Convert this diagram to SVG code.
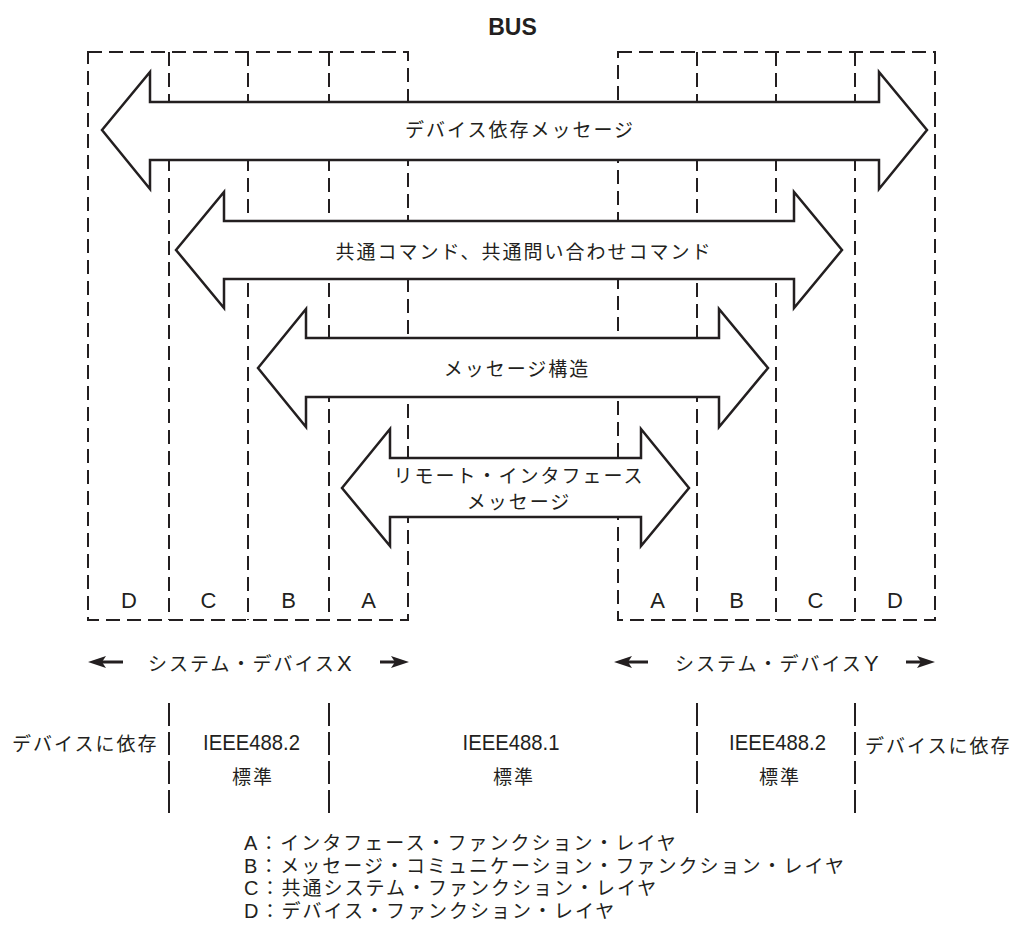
<svg xmlns="http://www.w3.org/2000/svg" width="1015" height="925" viewBox="0 0 1015 925">
<style>
.dash{fill:none;stroke:#231f20;stroke-width:2;stroke-dasharray:14 7}
.sep{fill:none;stroke:#231f20;stroke-width:2;stroke-dasharray:23 6}
.arw{fill:#fff;stroke:#231f20;stroke-width:2.5;stroke-linejoin:miter}
.jp{font-family:"Liberation Sans","Noto Sans CJK JP",sans-serif;font-size:19px;letter-spacing:2px;fill:#231f20}
.lat{font-family:"Liberation Sans",Arial,sans-serif;font-size:22px;fill:#231f20}
.big{font-size:22px}
.lg{font-size:20px}
.mid{text-anchor:middle}
.sa{stroke:#231f20;stroke-width:3}
.sh{fill:#231f20}
</style>
<rect width="1015" height="925" fill="#fff"/>
<text x="512.5" y="35" class="lat mid" style="font-weight:bold;font-size:23px">BUS</text>
<g id="deviceX">
<rect x="88" y="52" width="320" height="568" class="dash"/>
<line x1="169" y1="52" x2="169" y2="620" class="dash"/>
<line x1="248" y1="52" x2="248" y2="620" class="dash"/>
<line x1="329" y1="52" x2="329" y2="620" class="dash"/>
<text x="129" y="608" class="lat mid">D</text>
<text x="208.5" y="608" class="lat mid">C</text>
<text x="288.5" y="608" class="lat mid">B</text>
<text x="368.5" y="608" class="lat mid">A</text>
</g>
<g id="deviceY">
<rect x="618" y="52" width="317" height="568" class="dash"/>
<line x1="697" y1="52" x2="697" y2="620" class="dash"/>
<line x1="776" y1="52" x2="776" y2="620" class="dash"/>
<line x1="855" y1="52" x2="855" y2="620" class="dash"/>
<text x="657.5" y="608" class="lat mid">A</text>
<text x="736.5" y="608" class="lat mid">B</text>
<text x="815.5" y="608" class="lat mid">C</text>
<text x="895" y="608" class="lat mid">D</text>
</g>
<g id="connectors">
<g id="msg-device">
<polygon class="arw" points="102,130 150,72 150,102 879,102 879,72 927,130 879,189 879,160 150,160 150,189"/>
<text x="520" y="137" class="jp mid">デバイス依存メッセージ</text>
</g>
<g id="msg-common">
<polygon class="arw" points="176,250 224,192 224,221 794,221 794,192 842,250 794,308 794,279 224,279 224,308"/>
<text x="524" y="259" class="jp mid">共通コマンド、共通問い合わせコマンド</text>
</g>
<g id="msg-structure">
<polygon class="arw" points="258,368 306,309 306,338 719,338 719,309 768,368 719,427 719,397 306,397 306,427"/>
<text x="517" y="376" class="jp mid">メッセージ構造</text>
</g>
<g id="msg-remote">
<polygon class="arw" points="342,488 390,429 390,458 641,458 641,429 689,488 641,546 641,517 390,517 390,546"/>
<text x="519" y="483" class="jp mid">リモート・インタフェース</text>
<text x="519" y="509" class="jp mid">メッセージ</text>
</g>
</g>
<g id="sysX">
<line x1="100" y1="662" x2="123" y2="662" class="sa"/>
<polygon class="sh" points="88,662 106,656 102,662 106,668"/>
<text x="148" y="671" class="jp">システム・デバイス<tspan class="big" dx="1">X</tspan></text>
<line x1="380" y1="662" x2="397" y2="662" class="sa"/>
<polygon class="sh" points="409,662 391,656 395,662 391,668"/>
</g>
<g id="sysY">
<line x1="626" y1="662" x2="648" y2="662" class="sa"/>
<polygon class="sh" points="614,662 632,656 628,662 632,668"/>
<text x="675" y="671" class="jp">システム・デバイス<tspan class="big" dx="1">Y</tspan></text>
<line x1="906" y1="662" x2="923" y2="662" class="sa"/>
<polygon class="sh" points="935,662 917,656 921,662 917,668"/>
</g>
<g id="standards">
<line x1="169" y1="703" x2="169" y2="814" class="sep"/>
<line x1="329" y1="703" x2="329" y2="814" class="sep"/>
<line x1="697" y1="703" x2="697" y2="814" class="sep"/>
<line x1="855" y1="703" x2="855" y2="814" class="sep"/>
<text x="12" y="751" class="jp">デバイスに依存</text>
<text x="251.5" y="750" class="lat mid" textLength="97" lengthAdjust="spacingAndGlyphs">IEEE488.2</text>
<text x="253" y="784" class="jp mid">標準</text>
<text x="511" y="750" class="lat mid" textLength="97" lengthAdjust="spacingAndGlyphs">IEEE488.1</text>
<text x="514" y="784" class="jp mid">標準</text>
<text x="777.5" y="750" class="lat mid" textLength="97" lengthAdjust="spacingAndGlyphs">IEEE488.2</text>
<text x="780" y="784" class="jp mid">標準</text>
<text x="865" y="753" class="jp">デバイスに依存</text>
</g>
<g id="legend">
<text x="244" y="850" class="jp"><tspan class="lg">A</tspan>：インタフェース・ファンクション・レイヤ</text>
<text x="244" y="872.5" class="jp"><tspan class="lg">B</tspan>：メッセージ・コミュニケーション・ファンクション・レイヤ</text>
<text x="244" y="895" class="jp"><tspan class="lg">C</tspan>：共通システム・ファンクション・レイヤ</text>
<text x="244" y="917.5" class="jp"><tspan class="lg">D</tspan>：デバイス・ファンクション・レイヤ</text>
</g>
</svg>
